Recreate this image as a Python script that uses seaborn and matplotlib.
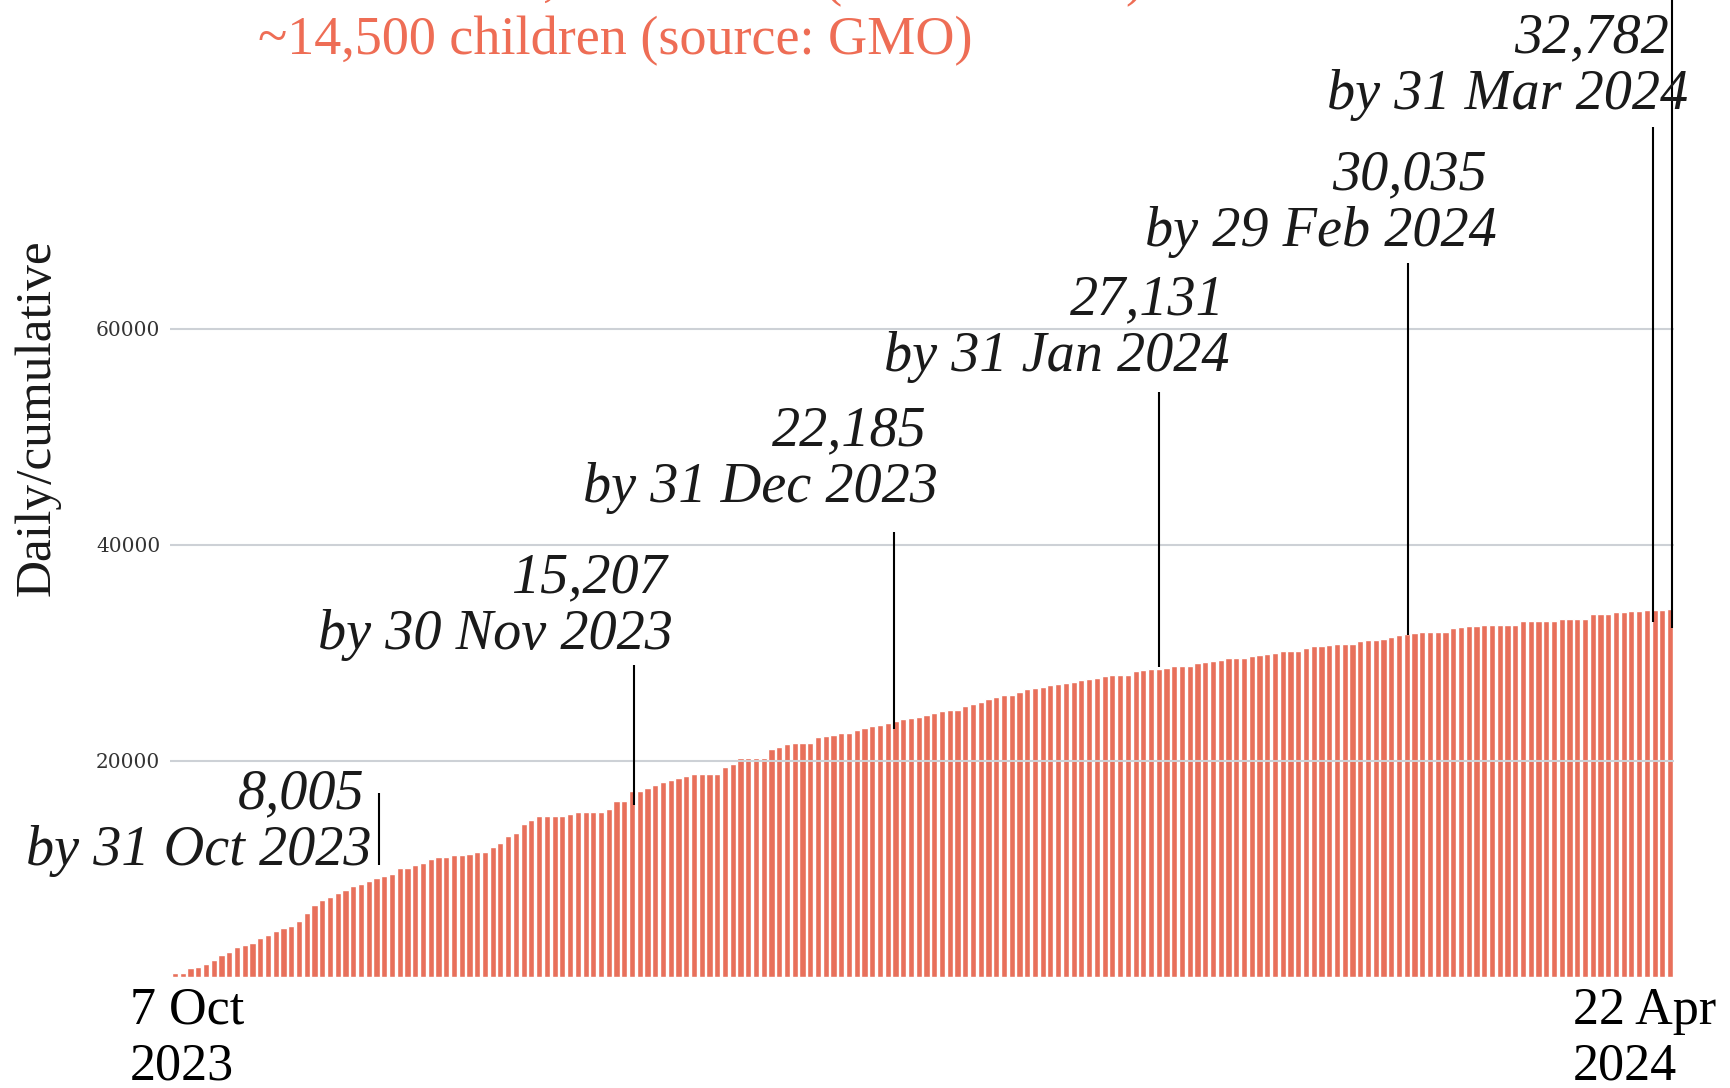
import matplotlib
matplotlib.use("Agg")
import matplotlib.pyplot as plt
import matplotlib.transforms as mtransforms
import pandas as pd
import seaborn as sns

# ---------------- data ----------------
cumulative = [
    340, 340, 830, 930, 1200, 1540, 2010, 2280, 2750, 2930,
    3120, 3580, 3860, 4260, 4510, 4690, 5150, 5890, 6640, 7100,
    7380, 7750, 8020, 8390, 8610, 8860, 9140, 9320, 9510, 10060,
    10060, 10340, 10600, 10890, 11080, 11080, 11300, 11300, 11390, 11570,
    11570, 12040, 12410, 13050, 13330, 14170, 14540, 14910, 14910, 14910,
    14910, 15090, 15280, 15280, 15280, 15280, 15550, 16290, 16290, 17220,
    17220, 17500, 17780, 18020, 18220, 18390, 18610, 18790, 18790, 18790,
    18790, 19440, 19720, 20280, 20280, 20280, 20280, 21110, 21290, 21570,
    21660, 21660, 21660, 22220, 22310, 22400, 22590, 22590, 22870, 23050,
    23240, 23330, 23520, 23700, 23890, 23980, 24070, 24260, 24440, 24630,
    24720, 24720, 25090, 25270, 25460, 25740, 25920, 26110, 26110, 26390,
    26660, 26760, 26850, 27030, 27130, 27220, 27310, 27500, 27590, 27680,
    27870, 27960, 27960, 27960, 28330, 28420, 28520, 28520, 28610, 28790,
    28790, 28790, 29070, 29160, 29260, 29350, 29530, 29530, 29530, 29720,
    29810, 29900, 30000, 30180, 30180, 30180, 30460, 30640, 30640, 30740,
    30830, 30830, 30830, 31110, 31200, 31200, 31290, 31480, 31660, 31760,
    31850, 31940, 31940, 31940, 31940, 32310, 32400, 32500, 32500, 32590,
    32590, 32590, 32590, 32590, 32960, 32960, 32960, 32960, 32960, 33140,
    33140, 33140, 33140, 33610, 33610, 33610, 33790, 33790, 33880, 33880,
    33980, 33980, 33980, 34070,
]
day_index = list(range(len(cumulative)))

ann_value_labels = ["8,005", "15,207", "22,185", "27,131", "30,035", "32,782"]
ann_date_labels = ["by 31 Oct 2023", "by 30 Nov 2023", "by 31 Dec 2023",
                   "by 31 Jan 2024", "by 29 Feb 2024", "by 31 Mar 2024"]
leader_x = [26.3, 59.2, 92.85, 127.0, 159.1, 190.8, 193.3]
leader_bottom = [10370, 15930, 22940, 28730, 31670, 32870, 32310]
leader_top = [17040, 28890, 41200, 54170, 66110, 78700, 120000]

ytick_values = [20000, 40000, 60000]
xtick_labels = ["7 Oct\n2023", "22 Apr\n2024"]
y_label = "Daily/cumulative"
subtitle_lines = ["Total deaths: 34,183 Gazans (source: MoH)",
                  "~14,500 children (source: GMO)"]

# ---------------- layout / style ----------------
W, H = 1730, 1088
BAR = "#E8705B"
SALMON = "#EE6D55"
INK = "#1a1a1a"
date_right_px = [372, 673, 938, 1229, 1497, 1688]
value_right_px = [364, 667, 927, 1225, 1487, 1669]
ann_base_px = [865, 649, 502, 371, 246, 109]
ann_gap_px = 57

sns.set_theme(style="white")
plt.rcParams["font.family"] = ["Liberation Serif", "DejaVu Serif"]

fig = plt.figure(figsize=(W / 100, H / 100), dpi=100)
ax = fig.add_axes([170 / W, (H - 977) / H, 1504 / W, 977 / H])

df = pd.DataFrame({"day": day_index, "cum": cumulative})
sns.barplot(data=df, x="day", y="cum", color=BAR, saturation=1, width=0.8,
            errorbar=None, ax=ax)

ax.set_xlim(-0.65, len(cumulative) - 0.5)
ax.set_ylim(0, 20000 * 977 / 216)

for s in ax.spines.values():
    s.set_visible(False)

ax.set_yticks(ytick_values)
ax.set_yticklabels([str(v) for v in ytick_values], family="DejaVu Serif",
                   fontsize=14.5, color="#333333")
ax.set_axisbelow(False)
ax.yaxis.grid(True, color="#CDD1D6", linewidth=1.5)
ax.xaxis.grid(False)
ax.tick_params(axis="y", length=0, pad=7)

ax.set_xticks([0, len(cumulative) - 1])
ax.set_xticklabels(xtick_labels, fontsize=37.5, color="black", linespacing=1.2)
ax.tick_params(axis="x", length=0, pad=7)
ax.set_xlabel("")

labs = ax.get_xticklabels()
labs[0].set_ha("center")
labs[0].set_multialignment("left")
labs[0].set_transform(labs[0].get_transform() +
                      mtransforms.ScaledTranslation(12 / 100, 0, fig.dpi_scale_trans))
labs[1].set_ha("right")
labs[1].set_multialignment("left")
labs[1].set_transform(labs[1].get_transform() +
                      mtransforms.ScaledTranslation(46 / 100, 0, fig.dpi_scale_trans))

ax.set_ylabel(y_label, fontsize=37, color=INK)
ax.yaxis.set_label_coords((61 - 170) / 1504, (977 - 418) / 977)

# leader lines
ax.vlines(leader_x, leader_bottom, leader_top, colors="black", linewidth=1.5,
          clip_on=False, zorder=5)

# annotation texts
for v, d, xv, xd, yb in zip(ann_value_labels, ann_date_labels, value_right_px,
                            date_right_px, ann_base_px):
    fig.text(xd / W, 1 - yb / H, d, ha="right", va="baseline", fontsize=40.5,
             fontstyle="italic", color=INK)
    fig.text(xv / W, 1 - (yb - ann_gap_px) / H, v, ha="right", va="baseline",
             fontsize=40.5, fontstyle="italic", color=INK)

# subtitle (top line is cut by the figure edge, as in the reference)
fig.text(198 / W, 1 + 5 / H, subtitle_lines[0], ha="left", va="baseline",
         fontsize=39, color=SALMON)
fig.text(615 / W, 1 - 54 / H, subtitle_lines[1], ha="center", va="baseline",
         fontsize=39, color=SALMON)

fig.savefig("out.png", dpi=100)
